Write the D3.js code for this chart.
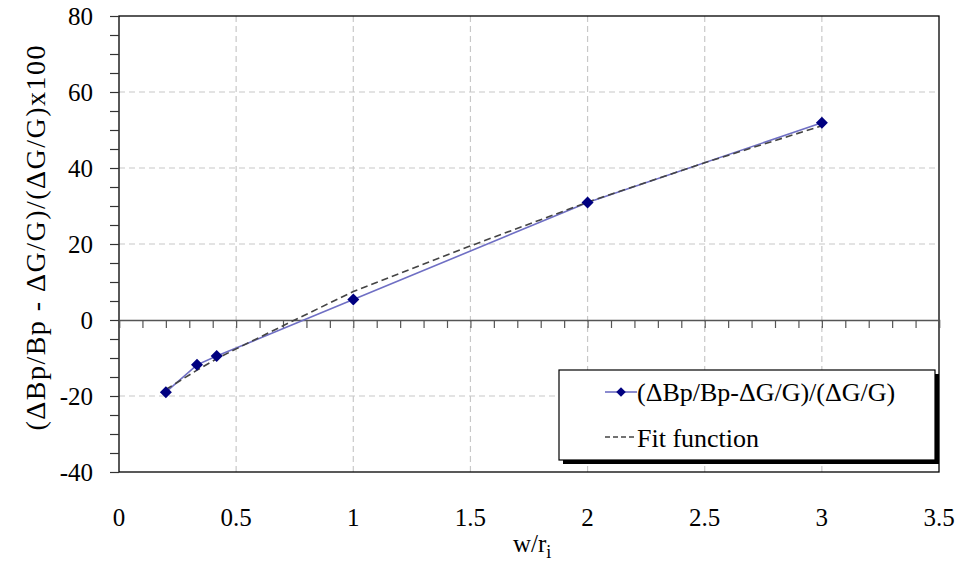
<!DOCTYPE html>
<html>
<head>
<meta charset="utf-8">
<script src="https://cdn.jsdelivr.net/npm/d3@7"></script>
<style>
  body { margin: 0; background: #fff; }
  svg text { font-family: "Liberation Serif", "Times New Roman", serif; }
</style>
</head>
<body>
<div id="vis"></div>
<script>
// measured ratio vs w/r_i
var ratioX = [0.2, 0.333, 0.417, 1, 2, 3];
var ratioY = [-19, -11.8, -9.5, 5.4, 30.9, 51.9];

// fitted curve, read at a few points along w/r_i
var fitX = [0.2, 0.333, 0.417, 0.5, 0.75, 1, 1.5, 2, 2.5, 3];
var fitY = [-18.3, -13.2, -10.2, -7.6, 0, 7.5, 19.5, 31, 41.4, 51.1];

var xTicks = [0, 0.5, 1, 1.5, 2, 2.5, 3, 3.5];
var yTicks = [-40, -20, 0, 20, 40, 60, 80];

var seriesName = '(\u0394Bp/Bp-\u0394G/G)/(\u0394G/G)';
var fitName = 'Fit function';

var width = 965, height = 565,
    margin = {top: 16, right: 26, bottom: 93, left: 119},
    drawWidth = width - margin.left - margin.right,
    drawHeight = height - margin.top - margin.bottom;

var svg = d3.select('#vis').append('svg')
    .attr('width', width)
    .attr('height', height);

var g = svg.append('g')
    .attr('transform', 'translate(' + margin.left + ',' + margin.top + ')');

var xScale = d3.scaleLinear().domain([0, 3.5]).range([0, drawWidth]);
var yScale = d3.scaleLinear().domain([-40, 80]).range([drawHeight, 0]);

// dashed grid
g.append('g').selectAll('line.vg')
    .data(xTicks.slice(1, -1))
    .enter().append('line')
    .attr('x1', d => xScale(d)).attr('x2', d => xScale(d))
    .attr('y1', 0).attr('y2', drawHeight)
    .attr('stroke', '#c8c8c8').attr('stroke-width', 1.2)
    .attr('stroke-dasharray', '6,4');

g.append('g').selectAll('line.hg')
    .data(yTicks.filter(d => d != 0 && d != 80 && d != -40))
    .enter().append('line')
    .attr('x1', 0).attr('x2', drawWidth)
    .attr('y1', d => yScale(d)).attr('y2', d => yScale(d))
    .attr('stroke', '#c8c8c8').attr('stroke-width', 1.2)
    .attr('stroke-dasharray', '6,4');

// plot frame
g.append('rect')
    .attr('width', drawWidth).attr('height', drawHeight)
    .attr('fill', 'none').attr('stroke', '#000').attr('stroke-width', 1.3);

// y axis with minor ticks every 5
var yAxis = d3.axisLeft(yScale)
    .tickValues(d3.range(-40, 81, 5))
    .tickSize(9)
    .tickFormat('');
g.append('g').call(yAxis)
    .call(s => s.select('.domain').remove())
    .selectAll('line').attr('stroke', '#333').attr('stroke-width', 1.2);

g.append('g').selectAll('text.yl')
    .data(yTicks)
    .enter().append('text')
    .attr('x', -26)
    .attr('y', d => yScale(d))
    .attr('dy', '0.34em')
    .attr('text-anchor', 'end')
    .attr('font-size', 25)
    .text(d => d);

// x axis sits on zero, ticks every 0.1 hanging below
var xAxis = d3.axisBottom(xScale)
    .tickValues(d3.range(0, 36).map(i => i / 10))
    .tickSize(8)
    .tickFormat('');
g.append('g')
    .attr('transform', 'translate(0,' + yScale(0) + ')')
    .call(xAxis)
    .call(s => s.select('.domain').attr('stroke', '#555').attr('stroke-width', 1.5))
    .selectAll('line').attr('stroke', '#555').attr('stroke-width', 1.2);

g.append('g').selectAll('text.xl')
    .data(xTicks)
    .enter().append('text')
    .attr('x', d => xScale(d))
    .attr('y', drawHeight + 54)
    .attr('text-anchor', 'middle')
    .attr('font-size', 25)
    .text(d => d);

// axis titles
var xTitle = svg.append('text')
    .attr('x', 513).attr('y', 552)
    .attr('font-size', 25);
xTitle.append('tspan').text('w/r');
xTitle.append('tspan').attr('dy', 6).attr('font-size', 18).text('i');

svg.append('text')
    .attr('transform', 'translate(45,' + 238 + ') rotate(-90)')
    .attr('text-anchor', 'middle')
    .attr('font-size', 28)
    .attr('textLength', 385)
    .attr('lengthAdjust', 'spacing')
    .text('(\u0394Bp/Bp - \u0394G/G)/(\u0394G/G)x100');

// series and fit curve
var line = d3.line().x(d => xScale(d[0])).y(d => yScale(d[1]));

g.append('path')
    .datum(d3.zip(ratioX, ratioY))
    .attr('d', line)
    .attr('fill', 'none')
    .attr('stroke', '#6f6fc4')
    .attr('stroke-width', 1.6);

g.append('path')
    .datum(d3.zip(fitX, fitY))
    .attr('d', line)
    .attr('fill', 'none')
    .attr('stroke', '#444')
    .attr('stroke-width', 1.6)
    .attr('stroke-dasharray', '7,4');

// square turned 45deg for the diamond markers
var diamond = d3.symbol().type(d3.symbolSquare).size(72);
g.selectAll('path.pt')
    .data(d3.zip(ratioX, ratioY))
    .enter().append('path')
    .attr('d', diamond)
    .attr('transform', d => 'translate(' + xScale(d[0]) + ',' + yScale(d[1]) + ') rotate(45)')
    .attr('fill', '#000080');

// legend
var legend = svg.append('g').attr('transform', 'translate(559,370)');
legend.append('rect')
    .attr('x', 4).attr('y', 4)
    .attr('width', 376).attr('height', 90)
    .attr('fill', '#000');
legend.append('rect')
    .attr('width', 376).attr('height', 90)
    .attr('fill', '#fff').attr('stroke', '#000').attr('stroke-width', 1.2);

legend.append('line')
    .attr('x1', 46).attr('x2', 78).attr('y1', 22).attr('y2', 22)
    .attr('stroke', '#6f6fc4').attr('stroke-width', 1.6);
legend.append('path')
    .attr('d', d3.symbol().type(d3.symbolSquare).size(45))
    .attr('transform', 'translate(62,22) rotate(45)')
    .attr('fill', '#000080');
legend.append('text')
    .attr('x', 78).attr('y', 31)
    .attr('font-size', 26)
    .text(seriesName);

legend.append('line')
    .attr('x1', 46).attr('x2', 78).attr('y1', 67).attr('y2', 67)
    .attr('stroke', '#444').attr('stroke-width', 1.4)
    .attr('stroke-dasharray', '5,3');
legend.append('text')
    .attr('x', 78).attr('y', 77)
    .attr('font-size', 26)
    .text(fitName);
</script>
</body>
</html>
